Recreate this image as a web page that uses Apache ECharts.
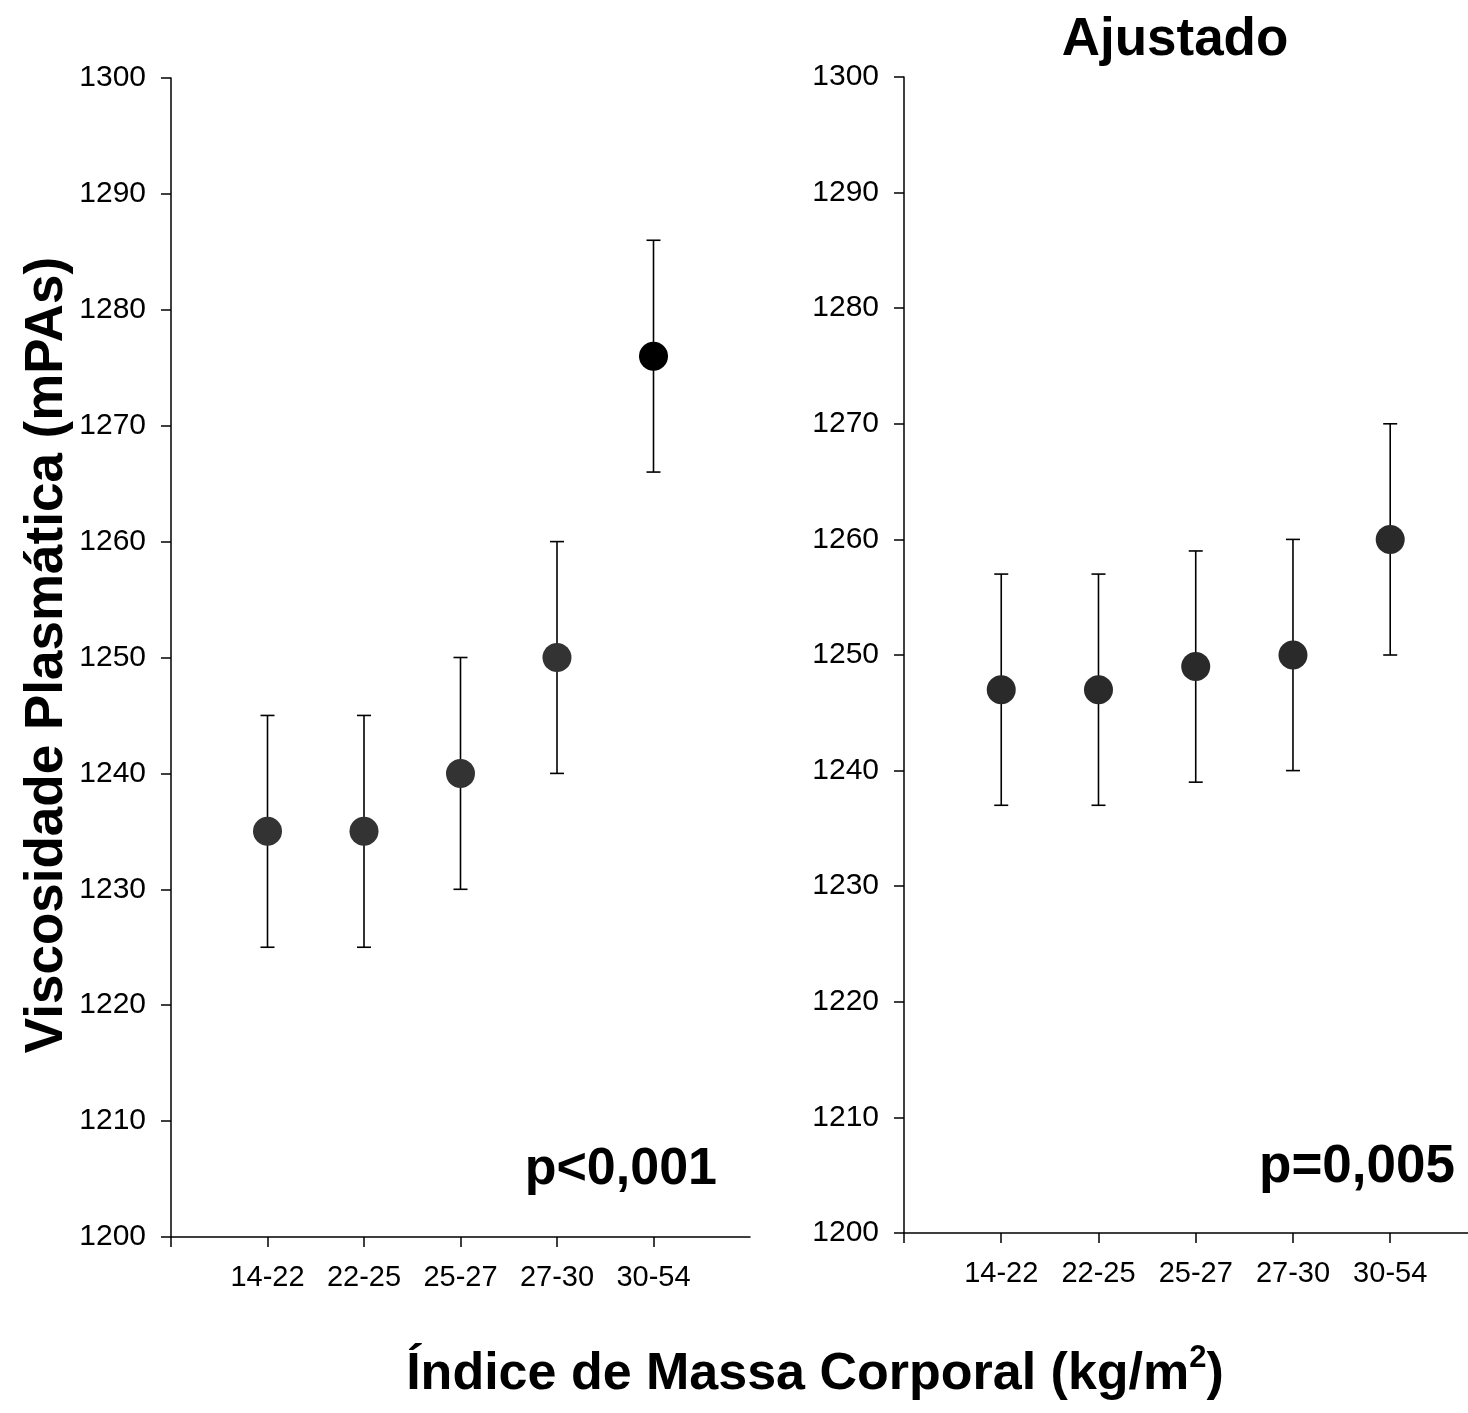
<!DOCTYPE html>
<html>
<head>
<meta charset="utf-8">
<script src="https://cdn.jsdelivr.net/npm/echarts@6/dist/echarts.min.js"></script>
<style>
html,body{margin:0;padding:0;background:#fff;}
#c{width:1468px;height:1413px;}
</style>
</head>
<body>
<div id="c"></div>
<script>
const categories = ['14-22','22-25','25-27','27-30','30-54'];
const yTicks = [1200,1210,1220,1230,1240,1250,1260,1270,1280,1290,1300];
// Left panel (crude)
const leftMean  = [1235, 1235, 1240, 1250, 1276];
const leftLow   = [1225, 1225, 1230, 1240, 1266];
const leftHigh  = [1245, 1245, 1250, 1260, 1286];
// Right panel (Ajustado)
const rightMean = [1247, 1247, 1249, 1250, 1260];
const rightLow  = [1237, 1237, 1239, 1240, 1250];
const rightHigh = [1257, 1257, 1259, 1260, 1270];
const leftColors  = ['#333333','#333333','#333333','#333333','#000000'];
const rightColors = ['#2a2a2a','#2a2a2a','#2a2a2a','#2a2a2a','#2a2a2a'];

const FONT = 'Arial, "Liberation Sans", sans-serif';
const chart = echarts.init(document.getElementById('c'));

function xAxisDef(gi, maxV){
  return {
    type:'value', gridIndex:gi, min:0, max:maxV, interval:1,
    axisLine:{show:true, lineStyle:{color:'#000', width:1.5}},
    axisTick:{show:true, length:10, inside:false, lineStyle:{color:'#000', width:1.5}, customValues:[0,1,2,3,4,5]},
    axisLabel:{show:true, customValues:[1,2,3,4,5], margin:26, color:'#000', fontSize:29, fontFamily:FONT,
      formatter:function(v){ return categories[Math.round(v)-1] || ''; }},
    splitLine:{show:false}
  };
}
function yAxisDef(gi){
  return {
    type:'value', gridIndex:gi, min:1200, max:1300, interval:10,
    axisLine:{show:true, lineStyle:{color:'#000', width:1.5}},
    axisTick:{show:true, length:10, inside:false, lineStyle:{color:'#000', width:1.5}},
    axisLabel:{show:true, margin:25, color:'#000', fontSize:30, fontFamily:FONT,
      formatter:function(v){ return yTicks.indexOf(v) >= 0 ? String(v) : ''; }},
    splitLine:{show:false}
  };
}
function errSeries(gi, low, high){
  return {
    type:'custom', xAxisIndex:gi, yAxisIndex:gi, z:2,
    data: low.map((l,i)=>[i+1, l, high[i]]),
    renderItem:function(params, api){
      const x = api.value(0);
      const p1 = api.coord([x, api.value(1)]);
      const p2 = api.coord([x, api.value(2)]);
      const cw = 7;
      const st = {stroke:'#000', lineWidth:1.6};
      return {type:'group', children:[
        {type:'line', shape:{x1:p1[0],y1:p1[1],x2:p2[0],y2:p2[1]}, style:st},
        {type:'line', shape:{x1:p1[0]-cw,y1:p1[1],x2:p1[0]+cw,y2:p1[1]}, style:st},
        {type:'line', shape:{x1:p2[0]-cw,y1:p2[1],x2:p2[0]+cw,y2:p2[1]}, style:st}
      ]};
    }
  };
}
function ptSeries(gi, mean, colors){
  return {
    type:'scatter', xAxisIndex:gi, yAxisIndex:gi, z:5, symbol:'circle', symbolSize:29,
    itemStyle:{opacity:1},
    data: mean.map((m,i)=>({value:[i+1, m], itemStyle:{color:colors[i], opacity:1}})),
    emphasis:{disabled:true}
  };
}

chart.setOption({
  backgroundColor:'#fff',
  animation:false,
  grid:[
    {left:171, top:78, width:579, height:1159},
    {left:904, top:77, width:564, height:1156}
  ],
  xAxis:[xAxisDef(0, 6), xAxisDef(1, 5.8)],
  yAxis:[yAxisDef(0), yAxisDef(1)],
  series:[
    errSeries(0, leftLow, leftHigh), ptSeries(0, leftMean, leftColors),
    errSeries(1, rightLow, rightHigh), ptSeries(1, rightMean, rightColors)
  ],
  graphic:[
    {type:'text', x:47, y:655, rotation:Math.PI/2, style:{text:'Viscosidade Plasmática (mPAs)', font:'bold 53px '+FONT, fill:'#000', textAlign:'center', textVerticalAlign:'middle'}},
    {type:'text', x:815, y:1372, style:{
      text:'{a|Índice de Massa Corporal (kg/m}{s|2}{a|)}',
      rich:{a:{font:'bold 52px '+FONT, fill:'#000', verticalAlign:'bottom', lineHeight:58}, s:{font:'bold 31px '+FONT, fill:'#000', verticalAlign:'top', lineHeight:58}},
      textAlign:'center', textVerticalAlign:'middle'}},
    {type:'text', x:1175, y:40, style:{text:'Ajustado', font:'bold 53px '+FONT, fill:'#000', textAlign:'center', textVerticalAlign:'middle'}},
    {type:'text', x:717, y:1170, style:{text:'p<0,001', font:'bold 52px '+FONT, fill:'#000', textAlign:'right', textVerticalAlign:'middle'}},
    {type:'text', x:1455, y:1167, style:{text:'p=0,005', font:'bold 53px '+FONT, fill:'#000', textAlign:'right', textVerticalAlign:'middle'}}
  ]
});
</script>
</body>
</html>
